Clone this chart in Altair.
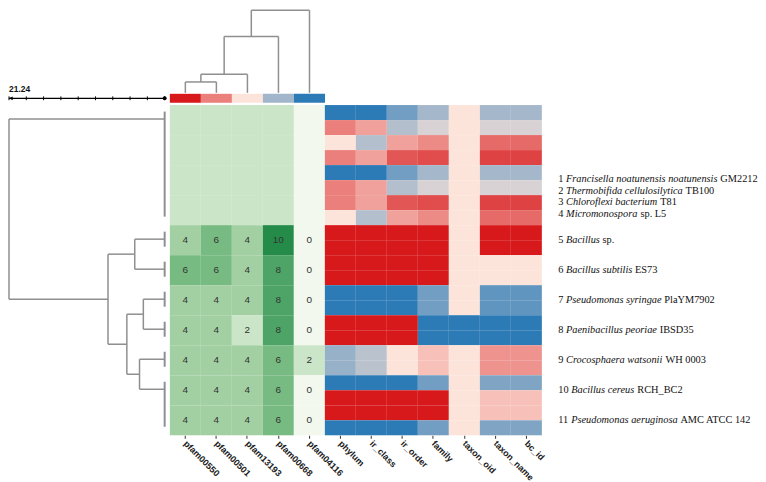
import altair as alt
import pandas as pd

# ---------------- data ----------------
pfam_cols = ["pfam00550", "pfam00501", "pfam13193", "pfam00668", "pfam04116"]
meta_cols = ["phylum", "ir_class", "ir_order", "family", "taxon_oid", "taxon_name", "bc_id"]
all_cols = pfam_cols + meta_cols

row_ids = list(range(1, 12))
block_rows = [1, 2, 3, 4]          # rows drawn without numbers
block_shade = [2, 2, 2, 2, 0]      # their (unlabelled) cell shade per pfam column
labelled_rows = [5, 6, 7, 8, 9, 10, 11]
pfam00550 = [4, 6, 4, 4, 4, 4, 4]
pfam00501 = [6, 6, 4, 4, 4, 4, 4]
pfam13193 = [4, 4, 4, 2, 4, 4, 4]
pfam00668 = [10, 8, 8, 8, 6, 6, 6]
pfam04116 = [0, 0, 0, 0, 2, 0, 0]

# metadata heatmap: 22 half-rows, value 0 = red, 0.5 = pale, 1 = blue
phylum     = [1, .25, .5, .25, 1, .25, .25, .5, 0, 0, 0, 0, 1, 1, 0, 0, .745, .745, 1, 0, 0, 1]
ir_class   = [1, .335, .675, .335, 1, .335, .335, .675, 0, 0, 0, 0, 1, 1, 0, 0, .66, .66, 1, 0, 0, 1]
ir_order   = [.835, .675, .335, .15, .835, .675, .15, .335, 0, 0, 0, 0, 1, 1, 0, 0, .5, .5, 1, 0, 0, 1]
family     = [.71, .585, .28, .125, .71, .585, .125, .28, 0, 0, 0, 0, .835, .835, 1, 1, .415, .415, .835, 0, 0, .835]
taxon_oid  = [.5] * 14 + [1, 1] + [.5] * 6
taxon_name = [.71, .585, .2, .1, .71, .585, .1, .2, 0, 0, .5, .5, .875, .875, 1, 1, .3, .3, .8, .415, .415, .8]
bc_id      = [.71, .585, .2, .1, .71, .585, .1, .2, 0, 0, .5, .5, .875, .875, 1, 1, .3, .3, .8, .415, .415, .8]

header_vals = [0, 0.25, 0.5, 0.72, 1]

species_num = ["1", "2", "3", "4", "5", "6", "7", "8", "9", "10", "11"]
species_name = ["Francisella noatunensis noatunensis", "Thermobifida cellulosilytica",
                "Chloroflexi bacterium", "Micromonospora", "Bacillus", "Bacillus subtilis",
                "Pseudomonas syringae", "Paenibacillus peoriae", "Crocosphaera watsonii",
                "Bacillus cereus", "Pseudomonas aeruginosa"]
species_strain = ["GM2212", "TB100", "T81", "sp. L5", "sp.", "ES73", "PlaYM7902",
                  "IBSD35", "WH 0003", "RCH_BC2", "AMC ATCC 142"]

# row dendrogram: leaf groups (rows merged at height 0) and merges (name, a, b, height)
row_leaves = {"G1": [1, 2, 3, 4], "r5": [5], "r6": [6], "r7": [7], "r8": [8], "r9": [9], "G10": [10, 11]}
row_merges = [("A", "r5", "r6", 4.08), ("B", "r7", "r8", 2.91), ("C", "r9", "G10", 3.43),
              ("BC", "B", "C", 5.16), ("ABC", "A", "BC", 7.73), ("root", "G1", "ABC", 21.24)]
scale_max = 21.24
scale_ticks = [0, 2.36, 4.72, 7.08, 9.44, 11.8, 14.16, 16.52, 18.88, 21.24]

# column dendrogram over pfam columns (leaf = column index)
col_merges = [("m12", 0, 1, 11.7), ("m123", "m12", 2, 20.0), ("m1234", "m123", 3, 60.7), ("croot", "m1234", 4, 89.0)]
col_root_h = 89.0

# ---------------- styles ----------------
green_domain = [0, 2, 4, 6, 8, 10]
green_range = ["#f2f8ed", "#cae5c8", "#a2d0a2", "#78bb82", "#4ea466", "#248c48"]
div_range = ["#d7191c", "#fde4da", "#2c7bb6"]
LINE = "#8f8f8f"
FS = 10.4

W_L = 156.5
W_HM = 374
H_HM = 332
H_TD = 83
H_HDR = 9

# ---------------- tables ----------------
pf_arrays = [pfam00550, pfam00501, pfam13193, pfam00668, pfam04116]
g_rows = []
for r in block_rows:
    for c, v in zip(pfam_cols, block_shade):
        g_rows.append({"row": r, "col": c, "gv": v, "txt": ""})
for i, r in enumerate(labelled_rows):
    for c, arr in zip(pfam_cols, pf_arrays):
        g_rows.append({"row": r, "col": c, "gv": arr[i], "txt": str(arr[i])})
green_df = pd.DataFrame(g_rows)
green_txt_df = green_df[green_df["txt"] != ""]

meta_arrays = [phylum, ir_class, ir_order, family, taxon_oid, taxon_name, bc_id]
red_df = pd.DataFrame([{"sub": k + 1, "col": c, "rv": arr[k]}
                       for k in range(22) for c, arr in zip(meta_cols, meta_arrays)])

hdr_df = pd.DataFrame({"col": pfam_cols, "hv": header_vals})

# left dendrogram segments
pos, hgt = {}, {}
leaf_bars = []
for name, rows in row_leaves.items():
    pos[name] = rows[0] - 0.5
    hgt[name] = 0.0
    leaf_bars.append({"x": 0.0, "x2": 0.0, "y": rows[0] - 1 + 0.25, "y2": rows[-1] - 0.25})
segs = []
for name, a, b, h in row_merges:
    segs.append({"x": h, "x2": h, "y": pos[a], "y2": pos[b]})
    for ch in (a, b):
        segs.append({"x": hgt[ch], "x2": h, "y": pos[ch], "y2": pos[ch]})
    pos[name] = (pos[a] + pos[b]) / 2
    hgt[name] = h
left_df = pd.DataFrame(segs)
leaf_df = pd.DataFrame(leaf_bars)

# top dendrogram segments
cpos, chgt = {}, {}
for i in range(len(pfam_cols)):
    cpos[i] = i + 0.5
    chgt[i] = 0.0
tsegs = []
for name, a, b, h in col_merges:
    tsegs.append({"x": cpos[a], "x2": cpos[b], "y": h, "y2": h})
    for ch in (a, b):
        tsegs.append({"x": cpos[ch], "x2": cpos[ch], "y": chgt[ch], "y2": h})
    cpos[name] = (cpos[a] + cpos[b]) / 2
    chgt[name] = h
top_df = pd.DataFrame(tsegs)

# species labels: mixed roman / italic, offsets from Times metrics
ROMAN = {" ": 250, "_": 500, ".": 250, "A": 722, "B": 667, "C": 667, "D": 722, "E": 611, "G": 722,
         "H": 722, "I": 333, "L": 611, "M": 889, "P": 556, "R": 667, "S": 556, "T": 611, "W": 944,
         "Y": 722, "a": 444, "l": 278, "p": 500, "s": 389}
ITAL = {" ": 250, "A": 611, "B": 611, "C": 667, "F": 611, "M": 833, "P": 611, "T": 556,
        "a": 500, "b": 500, "c": 444, "d": 500, "e": 444, "f": 278, "g": 500, "h": 500, "i": 278,
        "l": 278, "m": 722, "n": 500, "o": 500, "p": 500, "r": 389, "s": 389, "t": 278, "u": 500,
        "w": 667, "x": 444, "y": 444}


def w(s, table):
    return sum(table.get(ch, 500) for ch in s) / 1000.0


X0 = 390.5
lab_rows = []
for r, n, nm, st in zip(row_ids, species_num, species_name, species_strain):
    xi = X0 + w(n + " ", ROMAN) * FS
    xs = xi + w(nm + " ", ITAL) * FS
    lab_rows.append({"row": r, "num": n, "name": nm, "strain": st, "xn": X0, "xi": xi, "xs": xs})
lab_df = pd.DataFrame(lab_rows)
lab_top = lab_df[lab_df["row"].isin(block_rows)]
lab_main = lab_df[~lab_df["row"].isin(block_rows)]

# ---------------- scales ----------------
xs_dist = alt.Scale(domain=[0, scale_max], reverse=True, nice=False, zero=False)
ys_rows = alt.Scale(domain=[0, 11], reverse=True, nice=False, zero=False)
x_band = alt.Scale(domain=all_cols, paddingInner=0, paddingOuter=0)
green_scale = alt.Scale(domain=green_domain, range=green_range, interpolate="rgb")
div_scale = alt.Scale(domain=[0, 0.5, 1], range=div_range, interpolate="rgb")

x_axis = alt.Axis(title=None, labelAngle=45, labelAlign="left", labelBaseline="middle",
                  labelPadding=3.5, labelFont="Liberation Sans", labelFontSize=9,
                  labelFontWeight="bold", labelColor="#1a1a1a", domain=False, ticks=True,
                  tickSize=3, tickColor="#333333", tickWidth=1, labelOverlap=False)

# ---------------- panels ----------------
sb_line = alt.Chart(pd.DataFrame({"a": [scale_max], "b": [0.0]})).mark_rule(
    color="black", strokeWidth=1.2).encode(
    x=alt.X("a:Q", scale=xs_dist, axis=None), x2="b:Q", y=alt.value(88.5))
sb_ticks = alt.Chart(pd.DataFrame({"t": scale_ticks})).mark_rule(
    color="black", strokeWidth=1).encode(
    x=alt.X("t:Q", scale=xs_dist, axis=None), y=alt.value(86.6), y2=alt.value(90.4))
sb_end = alt.Chart(pd.DataFrame({"t": [0.0]})).mark_point(
    filled=True, color="black", size=16, opacity=1).encode(
    x=alt.X("t:Q", scale=xs_dist, axis=None), y=alt.value(88.5))
sb_start = alt.Chart(pd.DataFrame({"t": [scale_max]})).mark_point(
    filled=True, color="black", size=14, opacity=1, shape="M0,0L2,-1L2,1Z").encode(
    x=alt.X("t:Q", scale=xs_dist, axis=None), y=alt.value(88.5))
sb_text = alt.Chart(pd.DataFrame({"t": [scale_max], "s": [f"{scale_max:.2f}"]})).mark_text(
    align="left", baseline="alphabetic", font="Liberation Sans", fontSize=8.5,
    fontWeight="bold", color="#111").encode(
    x=alt.X("t:Q", scale=xs_dist, axis=None), y=alt.value(82), text="s:N")
TL = alt.layer(sb_line, sb_ticks, sb_end, sb_start, sb_text).properties(width=W_L, height=H_TD + H_HDR)

L_lines = alt.Chart(left_df).mark_rule(color=LINE, strokeWidth=1.5).encode(
    x=alt.X("x:Q", scale=xs_dist, axis=None), x2="x2:Q",
    y=alt.Y("y:Q", scale=ys_rows, axis=None), y2="y2:Q")
L_leaf = alt.Chart(leaf_df).mark_rule(color=LINE, strokeWidth=2).encode(
    x=alt.X("x:Q", scale=xs_dist, axis=None), x2="x2:Q",
    y=alt.Y("y:Q", scale=ys_rows, axis=None), y2="y2:Q")
L = alt.layer(L_lines, L_leaf).properties(width=W_L, height=H_HM)

TD = alt.Chart(top_df).mark_rule(color=LINE, strokeWidth=1.5).encode(
    x=alt.X("x:Q", scale=alt.Scale(domain=[0, len(pfam_cols)], nice=False, zero=False), axis=None),
    x2="x2:Q",
    y=alt.Y("y:Q", scale=alt.Scale(domain=[0, col_root_h], nice=False, zero=False), axis=None),
    y2="y2:Q").properties(width=156, height=H_TD)

HDR = alt.Chart(hdr_df).mark_rect().encode(
    x=alt.X("col:N", scale=alt.Scale(domain=pfam_cols, paddingInner=0, paddingOuter=0), axis=None),
    color=alt.Color("hv:Q", scale=div_scale, legend=None)).properties(width=156, height=H_HDR)

row_band = alt.Scale(domain=row_ids, paddingInner=0, paddingOuter=0)
g_rect = alt.Chart(green_df).mark_rect().encode(
    x=alt.X("col:N", scale=x_band, axis=x_axis),
    y=alt.Y("row:O", scale=row_band, axis=None),
    color=alt.Color("gv:Q", scale=green_scale, legend=None))
g_text = alt.Chart(green_txt_df).mark_text(
    font="Liberation Sans", fontSize=10, color="#333333").encode(
    x=alt.X("col:N", scale=x_band, axis=None),
    y=alt.Y("row:O", scale=row_band, axis=None),
    text="txt:N")
r_rect = alt.Chart(red_df).mark_rect().encode(
    x=alt.X("col:N", scale=x_band, axis=None),
    y=alt.Y("sub:O", scale=alt.Scale(domain=list(range(1, 23)), paddingInner=0, paddingOuter=0), axis=None),
    color=alt.Color("rv:Q", scale=div_scale, legend=None))


def lab_layers(df, yscale):
    out = []
    for field, xf, style in (("num", "xn", "normal"), ("name", "xi", "italic"), ("strain", "xs", "normal")):
        out.append(alt.Chart(df).mark_text(
            align="left", baseline="middle", font="Liberation Serif", fontSize=FS,
            fontStyle=style, color="#111111").encode(
            x=alt.X(f"{xf}:Q", scale=None),
            y=alt.Y("row:O", scale=yscale, axis=None),
            text=f"{field}:N"))
    return out


top_lab_scale = alt.Scale(type="point", domain=block_rows, range=[74.7, 109.3], padding=0)
labs = lab_layers(lab_main, row_band) + lab_layers(lab_top, top_lab_scale)

HM = alt.layer(g_rect, g_text, r_rect, *labs).resolve_scale(
    x="independent", y="independent", color="independent").properties(width=W_HM, height=H_HM)

leftcol = alt.vconcat(TL, L, spacing=2.3)
midtop = alt.vconcat(TD, HDR, spacing=0)
midcol = alt.vconcat(midtop, HM, spacing=2.3).resolve_scale(color="independent")

chart = alt.hconcat(leftcol, midcol, spacing=2.7).resolve_scale(
    color="independent").properties(padding=0).configure_view(stroke=None)

chart.save("out.html", embed_options={"renderer": "svg", "actions": False})
